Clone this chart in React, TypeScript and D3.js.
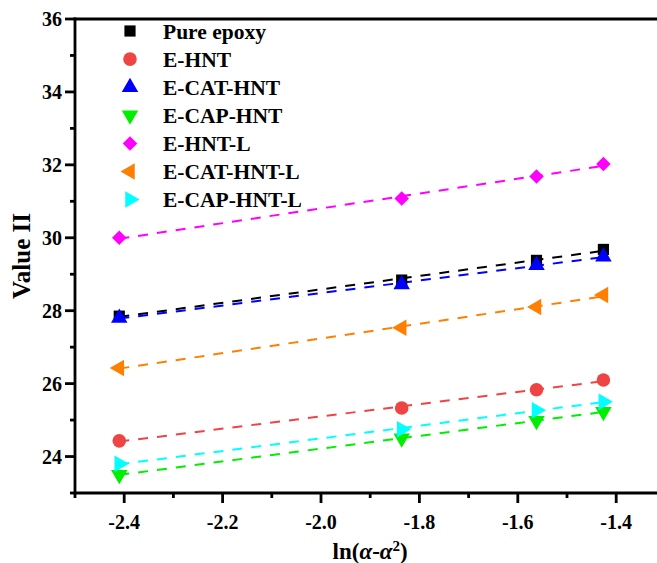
import React from "react";
import * as d3 from "d3";

const xValues = [-2.41, -1.836, -1.562, -1.426];
const seriesNames = ["Pure epoxy", "E-HNT", "E-CAT-HNT", "E-CAP-HNT", "E-HNT-L", "E-CAT-HNT-L", "E-CAP-HNT-L"];
const pureEpoxy = [27.85, 28.84, 29.38, 29.68];
const eHNT = [24.43, 25.33, 25.83, 26.1];
const eCATHNT = [27.8, 28.72, 29.25, 29.48];
const eCAPHNT = [23.5, 24.5, 24.98, 25.23];
const eHNTL = [30.0, 31.08, 31.68, 32.02];
const eCATHNTL = [26.43, 27.53, 28.1, 28.43];
const eCAPHNTL = [23.8, 24.75, 25.27, 25.5];
const seriesValues = [pureEpoxy, eHNT, eCATHNT, eCAPHNT, eHNTL, eCATHNTL, eCAPHNTL];
const colors = ["#000000", "#ef4444", "#0000ff", "#00ee00", "#ff00ff", "#ff8000", "#00ffff"];
const shapes = ["square", "circle", "up", "down", "diamond", "left", "right"];
const xTicks = [-2.4, -2.2, -2.0, -1.8, -1.6, -1.4];
const xMinorTicks = [-2.5, -2.3, -2.1, -1.9, -1.7, -1.5, -1.3];
const yTicks = [24, 26, 28, 30, 32, 34, 36];
const yMinorTicks = [23, 25, 27, 29, 31, 33, 35];

const W = 657, H = 563;
const L = 75, R = 665.4, T = 19, B = 493;
const x = d3.scaleLinear().domain([-2.5, -1.3]).range([L, R]);
const y = d3.scaleLinear().domain([23, 36]).range([B, T]);
const FONT = "'Liberation Serif', 'Times New Roman', serif";

function symbolPath(shape: string): { d: string; rot: number } {
  switch (shape) {
    case "square": return { d: d3.symbol(d3.symbolSquare, 125)()!, rot: 0 };
    case "circle": return { d: d3.symbol(d3.symbolCircle, 145)()!, rot: 0 };
    case "diamond": return { d: d3.symbol(d3.symbolSquare, 105)()!, rot: 45 };
    case "up": return { d: d3.symbol(d3.symbolTriangle, 118)()!, rot: 0 };
    case "down": return { d: d3.symbol(d3.symbolTriangle, 118)()!, rot: 180 };
    case "left": return { d: d3.symbol(d3.symbolTriangle, 118)()!, rot: -90 };
    case "right": return { d: d3.symbol(d3.symbolTriangle, 118)()!, rot: 90 };
  }
  return { d: "", rot: 0 };
}

function fit(xs: number[], ys: number[]) {
  const mx = d3.mean(xs)!, my = d3.mean(ys)!;
  let num = 0, den = 0;
  xs.forEach((v, i) => { num += (v - mx) * (ys[i] - my); den += (v - mx) ** 2; });
  const b = num / den;
  const a = my - b * mx;
  return (v: number) => a + b * v;
}

export default function App() {
  const xmin = d3.min(xValues)!, xmax = d3.max(xValues)!;
  const SW = 2.8;
  return (
    <svg width={W} height={H} style={{ position: "absolute", left: 0, top: 0, background: "#fff" }} fontFamily={FONT}>
      <rect width={W} height={H} fill="#fff" />
      {seriesValues.map((vals, i) => {
        const f = fit(xValues, vals);
        const gen = d3.line<number>().x((v) => x(v)).y((v) => y(f(v)));
        return (
          <path key={"l" + i} d={gen([xmin, xmax])!} stroke={colors[i]} strokeWidth={2} strokeDasharray="10,9" fill="none" />
        );
      })}
      {seriesValues.map((vals, i) => {
        const s = symbolPath(shapes[i]);
        return vals.map((v, j) => (
          <path key={"p" + i + "-" + j} d={s.d} fill={colors[i]}
            transform={`translate(${x(xValues[j])},${y(v)}) rotate(${s.rot})`} />
        ));
      })}
      {/* axes */}
      <line x1={L} x2={L} y1={T - 1.4} y2={B + 1.4} stroke="#000" strokeWidth={SW} />
      <line x1={L - 1.4} x2={W + 10} y1={B} y2={B} stroke="#000" strokeWidth={SW} />
      <line x1={L - 1.4} x2={W + 10} y1={T} y2={T} stroke="#000" strokeWidth={SW} />
      {xTicks.map((t) => (
        <g key={"xt" + t}>
          <line x1={x(t)} x2={x(t)} y1={B} y2={B + 10} stroke="#000" strokeWidth={SW} />
          <text x={x(t)} y={529} textAnchor="middle" fontSize={20} fontWeight="bold">{d3.format(".1f")(t).replace("−", "-")}</text>
        </g>
      ))}
      {xMinorTicks.map((t) => (
        <line key={"xm" + t} x1={x(t)} x2={x(t)} y1={B} y2={B + 5} stroke="#000" strokeWidth={SW} />
      ))}
      {yTicks.map((t) => (
        <g key={"yt" + t}>
          <line x1={L - 10} x2={L} y1={y(t)} y2={y(t)} stroke="#000" strokeWidth={SW} />
          <text x={62} y={y(t)} dy="0.35em" textAnchor="end" fontSize={20} fontWeight="bold">{t}</text>
        </g>
      ))}
      {yMinorTicks.map((t) => (
        <line key={"ym" + t} x1={L - 5} x2={L} y1={y(t)} y2={y(t)} stroke="#000" strokeWidth={SW} />
      ))}
      <text x={(L + R) / 2} y={559} textAnchor="middle" fontSize={23} fontWeight="bold">
        ln(<tspan fontStyle="italic">α</tspan>-<tspan fontStyle="italic">α</tspan><tspan fontSize={15} dy={-8}>2</tspan><tspan dy={8}>)</tspan>
      </text>
      <text transform={`translate(30,${(T + B) / 2}) rotate(-90)`} textAnchor="middle" fontSize={25} fontWeight="bold">Value II</text>
      {/* legend */}
      {seriesNames.map((name, i) => {
        const s = symbolPath(shapes[i]);
        const ly = 31 + i * 28.1;
        return (
          <g key={"lg" + i}>
            <path d={s.d} fill={colors[i]} transform={`translate(130,${ly}) rotate(${s.rot})`} />
            <text x={163} y={ly} dy="0.35em" fontSize={21.5} fontWeight="bold">{name}</text>
          </g>
        );
      })}
    </svg>
  );
}
